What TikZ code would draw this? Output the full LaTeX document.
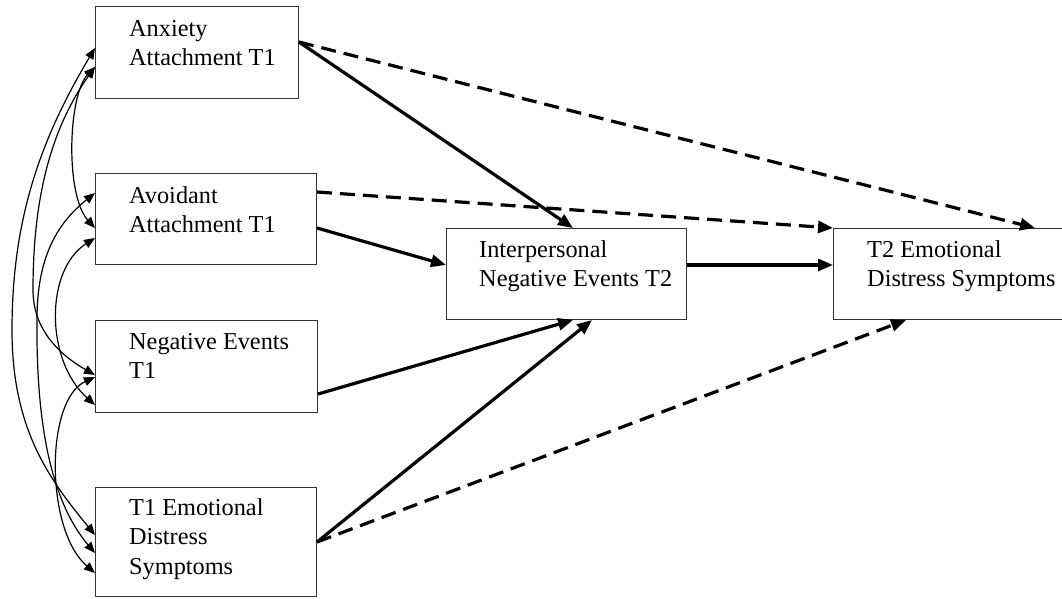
\documentclass[tikz,border=0pt]{standalone}
\usepackage{fontspec}
\setmainfont{Liberation Serif}
\usetikzlibrary{arrows.meta,calc}
\begin{document}
\begin{tikzpicture}[x=1pt,y=-1pt,
  box/.style={draw=black!80,line width=1pt,rectangle,inner sep=0pt,anchor=north west},
  lbl/.style={anchor=base west,inner sep=0pt,font=\fontsize{24.3}{29.5}\selectfont},
  mainarrow/.style={line width=3.2pt,-{Triangle[length=15pt,width=12pt]}},
  dasharrow/.style={mainarrow,dash pattern=on 15pt off 8pt},
  corr/.style={line width=1.2pt,{Triangle[length=11pt,width=9pt]}-{Triangle[length=11pt,width=9pt]}},
]
\useasboundingbox (0,0) rectangle (1062,598);

% boxes
\node[box,minimum width=203pt,minimum height=92pt] (anx) at (95,6) {};
\node[box,minimum width=221pt,minimum height=91pt] (avo) at (95,173) {};
\node[box,minimum width=222pt,minimum height=92pt] (neg) at (95,320) {};
\node[box,minimum width=221pt,minimum height=109pt] (emo) at (95,487) {};
\node[box,minimum width=240pt,minimum height=91pt] (int) at (446,228) {};
\node[box,minimum width=240pt,minimum height=91pt] (t2) at (833,228) {};

% labels
\node[lbl] (anxT) at ($(anx.north west)+(34,30)$) {\parbox[t]{200pt}{Anxiety\\Attachment T1}};
\node[lbl] (avoT) at ($(avo.north west)+(34,30)$) {\parbox[t]{200pt}{Avoidant\\Attachment T1}};
\node[lbl] (negT) at ($(neg.north west)+(34,29)$) {\parbox[t]{200pt}{Negative Events\\T1}};
\node[lbl] (emoT) at ($(emo.north west)+(34,28)$) {\parbox[t]{200pt}{T1 Emotional\\Distress\\Symptoms}};
\node[lbl] (intT) at ($(int.north west)+(33,29)$) {\parbox[t]{230pt}{Interpersonal\\Negative Events T2}};
\node[lbl] (t2T) at ($(t2.north west)+(34,29)$) {\parbox[t]{230pt}{T2 Emotional\\Distress Symptoms}};

% connection points
\coordinate (anxR) at ($(anx.north east)+(0,36)$);
\coordinate (avoR1) at ($(avo.north east)+(0,19)$);
\coordinate (avoR2) at ($(avo.north east)+(0,55)$);
\coordinate (negR) at ($(neg.north east)+(0,74)$);
\coordinate (emoR) at ($(emo.north east)+(0,55)$);
\coordinate (intTop) at ($(int.north west)+(127,0)$);
\coordinate (intL) at ($(int.north west)+(0,37)$);
\coordinate (intR) at ($(int.north east)+(0,37)$);
\coordinate (intB1) at ($(int.south west)+(127,0)$);
\coordinate (intB2) at ($(int.south west)+(146,0)$);
\coordinate (t2Top) at ($(t2.north west)+(202,0)$);
\coordinate (t2L) at ($(t2.north west)+(0,37)$);
\coordinate (t2B) at ($(t2.south west)+(73,0)$);

% paths
\draw[mainarrow] (anxR) -- (intTop);
\draw[dasharrow] (anxR) -- (t2Top);
\draw[dasharrow] (avoR1) -- (t2.north west);
\draw[mainarrow] (avoR2) -- (intL);
\draw[mainarrow] (negR) -- (intB1);
\draw[mainarrow] (emoR) -- (intB2);
\draw[dasharrow] (emoR) -- (t2B);
\draw[mainarrow] (intR) -- (t2L);

% left anchors
\coordinate (a1) at ($(anx.north west)+(0,42)$);
\coordinate (a2) at ($(anx.north west)+(0,61)$);
\coordinate (v1) at ($(avo.north west)+(0,20)$);
\coordinate (v2) at ($(avo.north west)+(0,55)$);
\coordinate (v3) at ($(avo.north west)+(0,65)$);
\coordinate (n1) at ($(neg.north west)+(0,55)$);
\coordinate (n2) at ($(neg.north west)+(0,57)$);
\coordinate (n3) at ($(neg.north west)+(0,85)$);
\coordinate (e1) at ($(emo.north west)+(0,48)$);
\coordinate (e2) at ($(emo.north west)+(0,66)$);
\coordinate (e3) at ($(emo.north west)+(0,86)$);

% correlations
\draw[corr] (a1) .. controls (40,140) and (12,220) .. (12,330) .. controls (12,430) and (50,480) .. (e1);
\draw[corr] (a2) .. controls (50,130) and (33,200) .. (33,290) .. controls (33,330) and (60,355) .. (n1);
\draw[corr] (a2) .. controls (68,95) and (65,195) .. (v2);
\draw[corr] (v1) .. controls (55,225) and (37,260) .. (37,320) .. controls (36,420) and (50,500) .. (e2);
\draw[corr] (v3) .. controls (45,270) and (45,360) .. (n3);
\draw[corr] (n2) .. controls (45,400) and (45,530) .. (e3);
\end{tikzpicture}
\end{document}
